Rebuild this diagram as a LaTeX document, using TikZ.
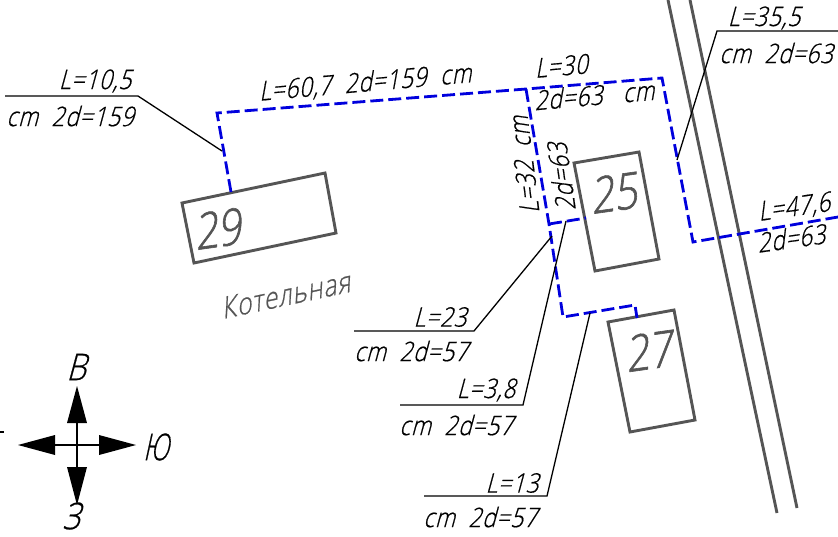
\documentclass[tikz,border=0pt]{standalone}
\usepackage{fontspec}
\setmainfont{Open Sans}
\newfontfamily\gostfont[FakeStretch=0.84,FakeSlant=0.27,FakeBold=0.6,LetterSpace=3]{Open Sans Light}
\newfontfamily\gostbig[FakeStretch=0.82,FakeSlant=0.2,FakeBold=1.2]{Open Sans Light}
\definecolor{bldg}{HTML}{555555}
\definecolor{pipe}{HTML}{0000DD}
\tikzset{
 lbl/.style={inner sep=0pt,font=\gostfont\fontsize{27}{27}\selectfont,text=black},
 big/.style={inner sep=0pt,font=\gostbig\fontsize{50}{50}\selectfont,text=bldg},
 compassl/.style={inner sep=0pt,font=\gostfont\fontsize{37}{37}\selectfont,text=black},
 house/.style={draw=bldg,line width=2.9pt,line join=miter},
 road/.style={draw=bldg,line width=2.9pt},
 pipeline/.style={draw=pipe,line width=2.8pt,dash pattern=on 13pt off 5pt},
 leader/.style={draw=black,line width=1.3pt},
 headf/.style={fill=black,draw=none}
}
\begin{document}
\begin{tikzpicture}[x=1pt,y=-1pt]
\useasboundingbox (0,0) rectangle (838,536);
% roads
\draw[road] (668,0) -- (777,513);
\draw[road] (690,0) -- (797,508);
% houses
\draw[house] (182,203) -- (325,173) -- (336,233) -- (194,263) -- cycle;
\draw[house] (574,163) -- (639,152) -- (659,259) -- (595,271) -- cycle;
\draw[house] (608,322) -- (674,310) -- (695,420) -- (630,432) -- cycle;
% pipes
\draw[pipeline] (231,192) -- (217,113) -- (526,89) -- (662,78) -- (693,242) -- (838,217);
\draw[pipeline] (526,89) -- (549,224) -- (563,317) -- (635,305) -- (637,318);
\draw[pipeline] (549,224) -- (586,218);
% leaders
\draw[leader] (5,96) -- (138,96) -- (222,151);
\draw[leader] (354,331) -- (474,331) -- (552,236);
\draw[leader] (400,405) -- (523,405) -- (566,221);
\draw[leader] (424,496) -- (547,496) -- (590,313);
\draw[leader] (677,160) -- (717,31) -- (838,31);
% compass
\draw[leader] (55,445) -- (99,445);
\draw[leader] (77,423) -- (77,467);
\fill[headf] (77,386) -- (87,423) -- (67,423) -- cycle;
\fill[headf] (77,505) -- (87,467) -- (67,467) -- cycle;
\fill[headf] (18,445) -- (55,435) -- (55,455) -- cycle;
\fill[headf] (136,445) -- (99,435) -- (99,455) -- cycle;
\draw[leader] (0,432) -- (4,432);
% labels
\node[lbl] (a1) at (95,81) {L=10,5};
\node[lbl] (a2) at (70,116) {cm\ \ 2d=159};
\node[lbl,rotate=5] (a3) at (365,83) {L=60,7\ \ 2d=159\ \ cm};
\node[lbl,rotate=5] (a4) at (561,66) {L=30};
\node[lbl,rotate=5] (a5) at (594,95) {2d=63\ \ \ cm};
\node[lbl] (a6) at (764,18) {L=35,5};
\node[lbl] (a7) at (776,53) {cm\ \ 2d=63};
\node[lbl,rotate=8] (a8) at (794,208) {L=47,6};
\node[lbl,rotate=8] (a9) at (791,238) {2d=63};
\node[lbl,rotate=97] (a10) at (524,165) {L=32\ \ cm};
\node[lbl,rotate=98] (a11) at (561,177) {2d=63};
\node[lbl] (a12) at (440,317) {L=23};
\node[lbl] (a13) at (411,351) {cm\ \ 2d=57};
\node[lbl] (a14) at (486,390) {L=3,8};
\node[lbl] (a15) at (456,425) {cm\ \ 2d=57};
\node[lbl] (a16) at (512,483) {L=13};
\node[lbl] (a17) at (480,517) {cm\ \ 2d=57};
\node[big,rotate=8] (n29) at (217,229) {29};
\node[big,rotate=8] (n25) at (613,193) {25};
\node[big,rotate=8] (n27) at (648,351) {27};
\node[lbl,text=bldg,rotate=12,font=\gostfont\fontsize{30}{30}\selectfont] (kot) at (285,295) {Котельная};
\node[compassl] (nb) at (76,367) {В};
\node[compassl,xscale=0.8] (ny) at (156,447) {Ю};
\node[compassl] (nz) at (71,516) {З};
\end{tikzpicture}
\end{document}
